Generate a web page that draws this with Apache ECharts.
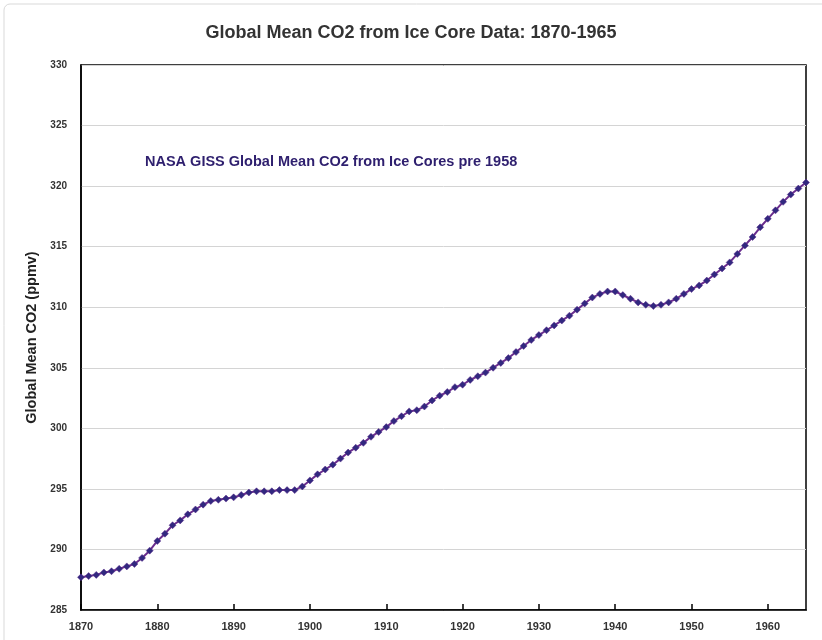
<!DOCTYPE html>
<html>
<head>
<meta charset="utf-8">
<script src="https://cdn.jsdelivr.net/npm/echarts@6/dist/echarts.min.js"></script>
<style>html,body{margin:0;padding:0;background:#fff}#c{width:822px;height:640px}</style>
</head>
<body>
<div id="c"></div>
<script>
const years = [];
for (let y = 1870; y <= 1965; y++) years.push(y);
const co2 = [
  287.7, 287.8, 287.9, 288.1, 288.2, 288.4, 288.6, 288.8, 289.3, 289.9,
  290.7, 291.3, 292.0, 292.4, 292.9, 293.3, 293.7, 294.0, 294.1, 294.2,
  294.3, 294.5, 294.7, 294.8, 294.8, 294.8, 294.9, 294.9, 294.9, 295.2,
  295.7, 296.2, 296.6, 297.0, 297.5, 298.0, 298.4, 298.8, 299.3, 299.7,
  300.1, 300.6, 301.0, 301.4, 301.5, 301.8, 302.3, 302.7, 303.0, 303.4,
  303.6, 304.0, 304.3, 304.6, 305.0, 305.4, 305.8, 306.3, 306.8, 307.3,
  307.7, 308.1, 308.5, 308.9, 309.3, 309.8, 310.3, 310.8, 311.1, 311.3,
  311.3, 311.0, 310.7, 310.4, 310.2, 310.1, 310.2, 310.4, 310.7, 311.1,
  311.5, 311.8, 312.2, 312.7, 313.2, 313.7, 314.4, 315.1, 315.8, 316.6,
  317.3, 318.0, 318.7, 319.3, 319.8, 320.3
];
const titleText = 'Global Mean CO2 from Ice Core Data: 1870-1965';
const noteText = 'NASA GISS Global Mean CO2 from Ice Cores pre 1958';
const yAxisName = 'Global Mean CO2 (ppmv)';

const chart = echarts.init(document.getElementById('c'), null, {renderer: 'canvas'});
const font = 'Liberation Sans, Arial, sans-serif';
chart.setOption({
  animation: false,
  backgroundColor: '#fff',
  graphic: [{
    type: 'rect', shape: {x: 4, y: 4, width: 830, height: 660, r: 6},
    style: {fill: 'none', stroke: '#d9d9d9', lineWidth: 1}, silent: true
  }],
  title: [{
    text: titleText, left: 'center', top: 19,
    textStyle: {fontFamily: font, fontSize: 18, fontWeight: 'bold', color: '#333'}
  }, {
    text: noteText, left: 140, top: 149,
    textStyle: {fontFamily: font, fontSize: 14.5, fontWeight: 'bold', color: '#2e1f6e'}
  }],
  grid: {left: 81, right: 16, top: 65, bottom: 30, show: true, borderColor: '#000', borderWidth: 1.5},
  xAxis: {
    type: 'value', min: 1870, max: 1965, interval: 10,
    axisLine: {lineStyle: {color: '#000', width: 1.5}},
    axisTick: {inside: true, length: 6, lineStyle: {color: '#000', width: 1.5}},
    axisLabel: {
      fontFamily: font, fontSize: 11, fontWeight: 'bold', color: '#333', margin: 11,
      showMaxLabel: false,
      formatter: v => (v % 10 === 0 ? String(v) : '')
    },
    splitLine: {show: false}
  },
  yAxis: {
    type: 'value', min: 285, max: 330, interval: 5,
    name: yAxisName, nameLocation: 'middle', nameGap: 40, nameRotate: 90,
    nameTextStyle: {fontFamily: font, fontSize: 14.5, fontWeight: 'bold', color: '#222'},
    axisLine: {show: true, lineStyle: {color: '#000', width: 1.5}},
    axisTick: {show: false},
    axisLabel: {fontFamily: font, fontSize: 10, fontWeight: 'bold', color: '#333', margin: 14},
    splitLine: {lineStyle: {color: '#d4d4d4', width: 1}}
  },
  series: [{
    type: 'line',
    data: years.map((y, i) => [y, co2[i]]),
    symbol: 'diamond', symbolSize: 7,
    lineStyle: {color: '#6a2d8e', width: 2},
    itemStyle: {color: '#32287f', borderColor: '#5a2a8a', borderWidth: 0.5}
  }]
});
</script>
</body>
</html>
